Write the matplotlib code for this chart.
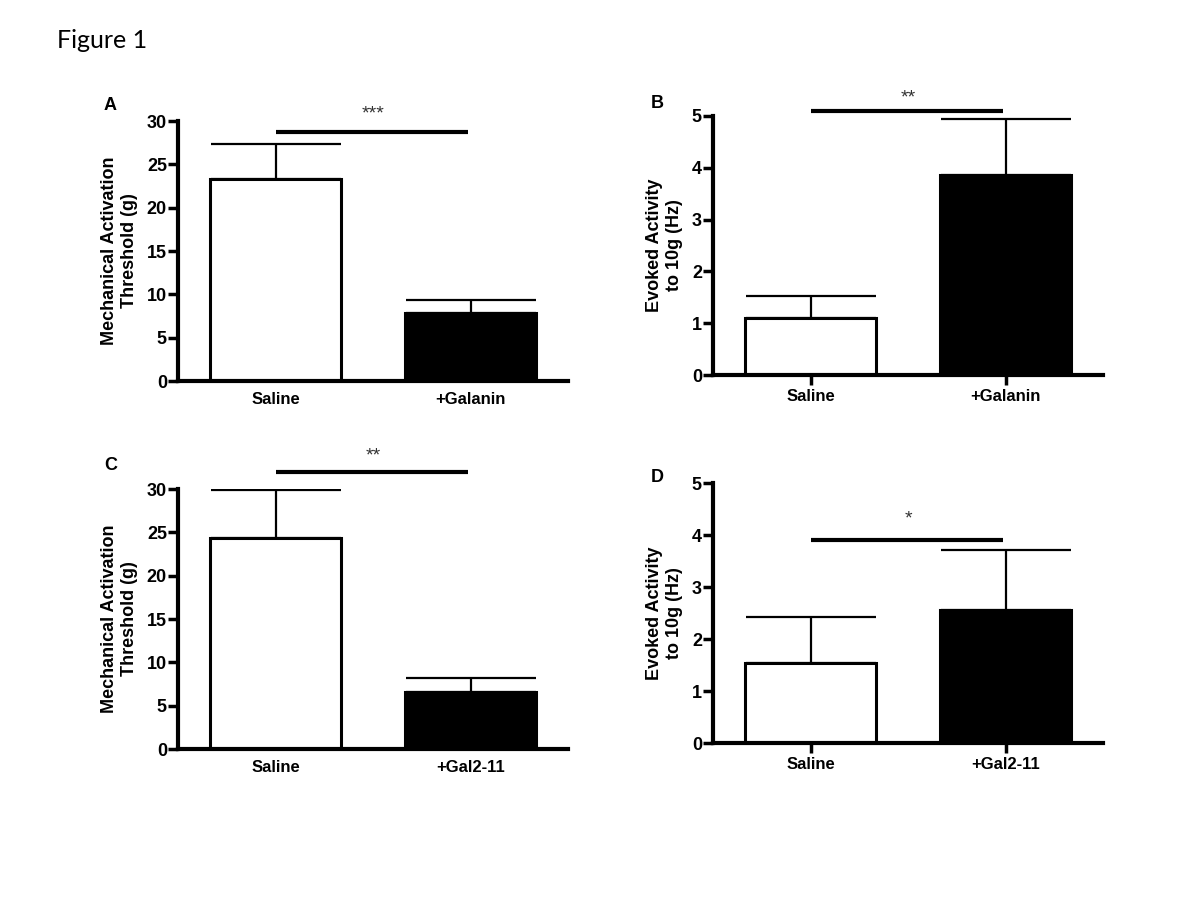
import matplotlib.pyplot as plt

# group names and bar data
groups_top = ["Saline", "+Galanin"]
groups_bottom = ["Saline", "+Gal2-11"]

threshold_galanin = [23.3, 7.9]
threshold_galanin_sem = [4.0, 1.4]
evoked_galanin = [1.1, 3.87]
evoked_galanin_sem = [0.42, 1.07]

threshold_gal211 = [24.3, 6.55]
threshold_gal211_sem = [5.6, 1.7]
evoked_gal211 = [1.53, 2.55]
evoked_gal211_sem = [0.89, 1.16]

thr_ticks = [0, 5, 10, 15, 20, 25, 30]
evk_ticks = [0, 1, 2, 3, 4, 5]

# significance bars: (level in data units, stars)
sig_a = (28.7, "***")
sig_b = (5.09, "**")
sig_c = (32.0, "**")
sig_d = (3.91, "*")

FONT = ["Liberation Sans", "DejaVu Sans"]
plt.rcParams["font.family"] = FONT
plt.rcParams["font.weight"] = "bold"


def draw_panel(ax, labels, means, sems, ticks, ylabel, sig, star_y, xticks):
    x = [0, 1]
    ax.bar(x, means, width=0.67, color=["white", "black"],
           edgecolor="black", linewidth=2.2, zorder=2)
    ax.errorbar(x, means, yerr=[[0, 0], sems], fmt="none", ecolor="black",
                elinewidth=1.6, capsize=47, capthick=1.6, zorder=1)

    ax.set_xlim(-0.5, 1.5)
    ax.set_ylim(0, ticks[-1])
    ax.set_yticks(ticks)
    ax.set_yticklabels([str(t) for t in ticks], fontsize=13, fontweight="bold")
    ax.set_xticks(x)
    ax.set_xticklabels(labels, fontsize=12, fontweight="bold")
    ax.tick_params(axis="y", length=7, width=2.5, pad=1)
    if xticks:
        ax.tick_params(axis="x", length=7, width=2.5, pad=3)
    else:
        ax.tick_params(axis="x", length=0, pad=8)

    for side in ["top", "right"]:
        ax.spines[side].set_visible(False)
    for side in ["left", "bottom"]:
        ax.spines[side].set_linewidth(3)

    ax.set_ylabel(ylabel, fontsize=13, fontweight="bold", labelpad=6,
                  linespacing=1.3)

    level, stars = sig
    ax.plot([0, 0.985], [level, level], color="black", linewidth=3,
            clip_on=False, solid_capstyle="butt")
    ax.text(0.5, star_y, stars, ha="center", va="center", fontsize=14,
            color="#333333", fontweight="normal", clip_on=False)


fig = plt.figure(figsize=(12, 9), dpi=100)

ax_a = fig.add_axes([178 / 1200, 1 - 381 / 900, 390 / 1200, 260 / 900])
ax_b = fig.add_axes([713 / 1200, 1 - 375 / 900, 390 / 1200, 259 / 900])
ax_c = fig.add_axes([178 / 1200, 1 - 749 / 900, 390 / 1200, 260 / 900])
ax_d = fig.add_axes([713 / 1200, 1 - 743 / 900, 390 / 1200, 260 / 900])

thr_label = "Mechanical Activation\nThreshold (g)"
evk_label = "Evoked Activity\nto 10g (Hz)"

draw_panel(ax_a, groups_top, threshold_galanin, threshold_galanin_sem,
           thr_ticks, thr_label, sig_a, 30.8, False)
draw_panel(ax_b, groups_top, evoked_galanin, evoked_galanin_sem,
           evk_ticks, evk_label, sig_b, 5.35, True)
draw_panel(ax_c, groups_bottom, threshold_gal211, threshold_gal211_sem,
           thr_ticks, thr_label, sig_c, 33.8, False)
draw_panel(ax_d, groups_bottom, evoked_gal211, evoked_gal211_sem,
           evk_ticks, evk_label, sig_d, 4.3, True)

for label, px, py in [("A", 110, 106), ("B", 657, 104),
                      ("C", 111, 466), ("D", 657, 477)]:
    fig.text(px / 1200, 1 - py / 900, label, ha="center", va="center",
             fontsize=13, fontweight="bold")

fig.text(57 / 1200, 1 - 40 / 900, "Figure 1", ha="left", va="center",
         fontsize=18, fontweight="normal", family=["Lato", "DejaVu Sans"])

fig.savefig("out.png", dpi=100, facecolor="white")
